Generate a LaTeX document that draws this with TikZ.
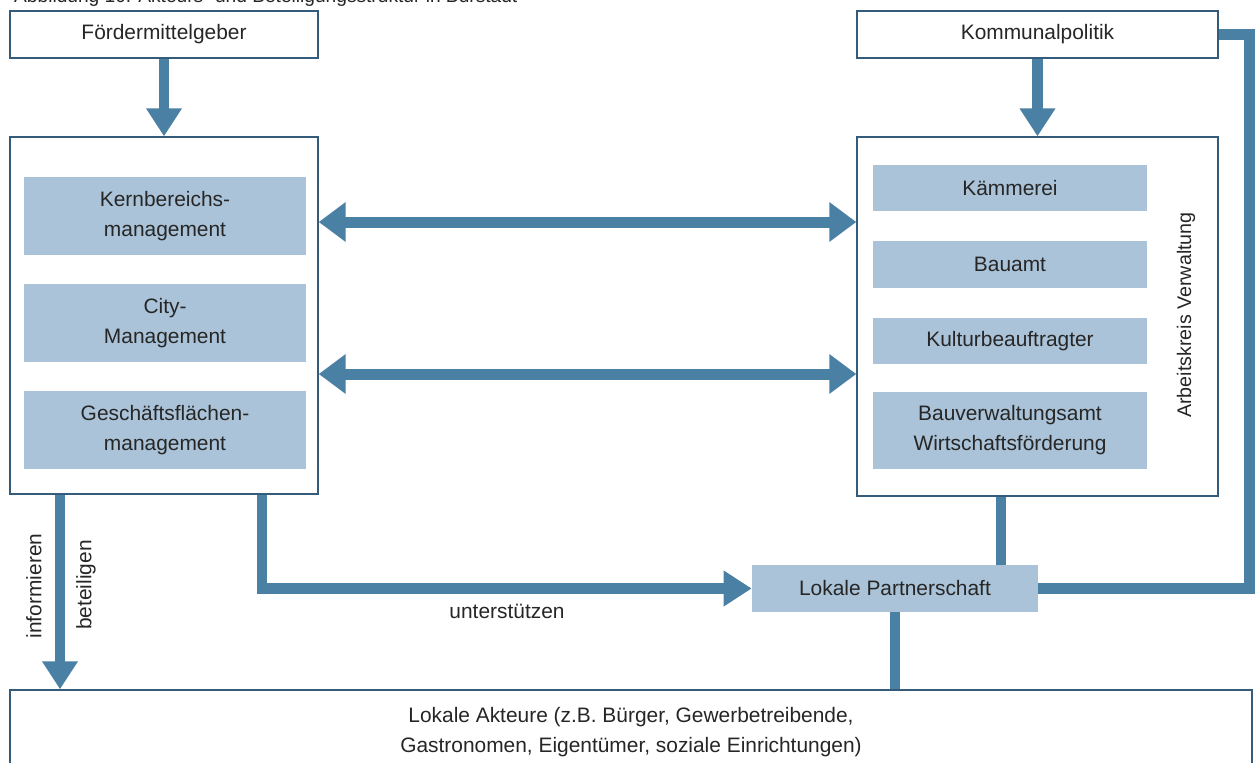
\documentclass[tikz,border=0pt]{standalone}
\usepackage{fontspec}
\setmainfont{Liberation Sans}
\usepackage{tikz}
\usetikzlibrary{calc,positioning,arrows.meta}

\definecolor{pfeil}{RGB}{74,128,163}
\definecolor{hell}{RGB}{170,195,216}
\definecolor{rand}{RGB}{52,92,122}

\begin{document}
\begin{tikzpicture}[x=0.02cm, y=-0.02cm,
  txt/.style = {font=\fontsize{11.9}{17}\selectfont, text=black!85, align=center},
  box/.style = {txt, draw=rand, line width=0.8pt, fill=white, inner sep=0pt},
  inbox/.style = {txt, fill=hell, inner sep=0pt},
  lnk/.style = {draw=pfeil, line width=0.21cm},
  pf/.style = {lnk, arrows={-Triangle[length=0.56cm, width=0.68cm]}},
  dbl/.style = {lnk, line width=0.22cm, arrows={Triangle[length=0.54cm, width=0.76cm]-Triangle[length=0.54cm, width=0.76cm]}}]
\useasboundingbox (0,0) rectangle (1255,762);
\clip (0,0) rectangle (1255,762);

\node[txt, font=\fontsize{10.9}{13}\selectfont, anchor=base west] (titel) at (8,2)
  {Abbildung 10: Akteurs- und Beteiligungsstruktur in Burstadt};

% obere Zeile
\node[box, minimum width=6.16cm, minimum height=0.94cm] (foerder) at (164,34.5) {Fördermittelgeber};
\node[box, minimum width=7.22cm, minimum height=0.94cm] (kommunal) at (1037.5,34.5) {Kommunalpolitik};

% grosse Kaesten
\node[box, minimum width=6.16cm, minimum height=7.14cm] (links) at (164,315.5) {};
\node[box, minimum width=7.22cm, minimum height=7.18cm] (rechts) at (1037.5,316.5) {};

\foreach \i/\y/\lbl in {kern/216/{Kernbereichs-\\management}, city/323/{City-\\Management}, gesch/430/{Geschäftsflächen-\\management}}{
  \node[inbox, minimum width=5.64cm, minimum height=1.56cm] (\i) at (165,\y) {\lbl};
}
\foreach \i/\y/\h/\lbl in {kaem/188/0.92/Kämmerei, bau/264.5/0.94/Bauamt, kult/341/0.92/Kulturbeauftragter, bauv/430.5/1.54/{Bauverwaltungsamt\\Wirtschaftsförderung}}{
  \node[inbox, minimum width=5.48cm, minimum height=\h cm] (\i) at (1010,\y) {\lbl};
}
\node[txt, rotate=90, font=\fontsize{11.2}{13}\selectfont] (ak) at (1186,315) {Arbeitskreis Verwaltung};

% unten
\node[inbox, minimum width=5.72cm, minimum height=0.94cm] (partner) at (895,588.5) {Lokale Partnerschaft};
\node[box, minimum width=24.84cm, minimum height=1.68cm] (akteure) at (631,732)
  {Lokale Akteure (z.B. Bürger, Gewerbetreibende,\\Gastronomen, Eigentümer, soziale Einrichtungen)};

% Verbindungen
\draw[pf] (foerder) -- (links);
\draw[pf] (kommunal) -- (rechts);
\draw[dbl] (links.east |- 0,222) -- (rechts.west |- 0,222);
\draw[dbl] (links.east |- 0,374) -- (rechts.west |- 0,374);
\draw[pf] (links.south -| 60,0) -- (akteure.north -| 60,0);
\draw[pf] (links.south -| 262,0) |- (partner.west);
\draw[lnk] (rechts.south -| 1001,0) -- (partner.north -| 1001,0);
\draw[lnk] (partner.south) -- (partner.south |- akteure.north);
\draw[lnk] (partner.east) -| ($(kommunal.east)+(31,0)$) -- (kommunal.east);

\node[txt, rotate=90] (inf) at (34,586) {informieren};
\node[txt, rotate=90] (bet) at (86,585) {beteiligen};
\node[txt] (unt) at (507,611) {unterstützen};
\end{tikzpicture}
\end{document}
